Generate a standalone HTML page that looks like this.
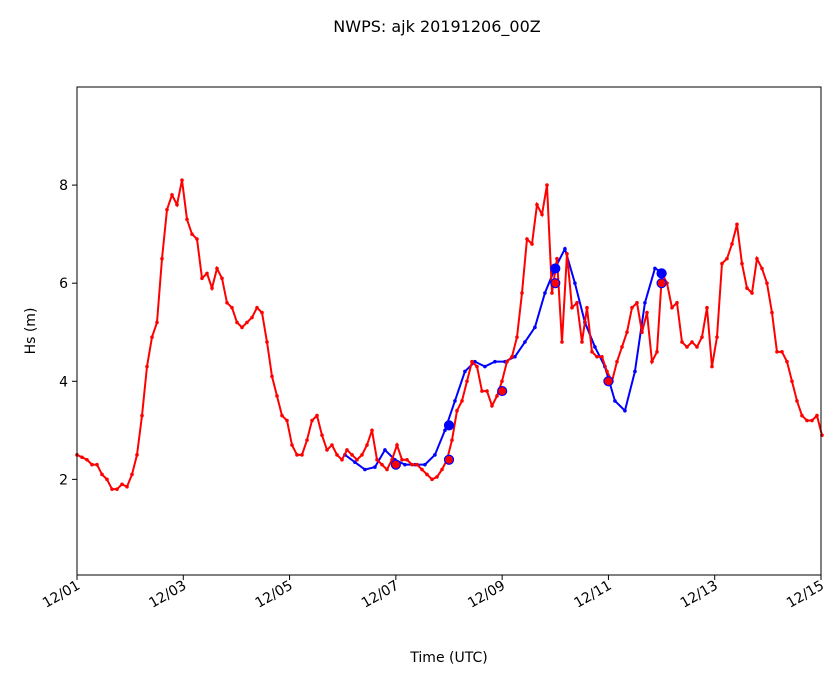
<!DOCTYPE html>
<html><head><meta charset="utf-8">
<style>
body{margin:0;background:#fff;font-family:"Liberation Sans","DejaVu Sans",sans-serif;}
svg text{font-family:"DejaVu Sans","Liberation Sans",sans-serif;}
</style></head>
<body>
<svg id="chart" width="839" height="681" viewBox="0 0 839 681">
<text x="437" y="32" font-size="16" text-anchor="middle">NWPS: ajk 20191206_00Z</text>
<g id="plot"></g>
<rect x="77" y="87" width="744" height="488" fill="none" stroke="#000" stroke-width="1"/>
<g id="xaxis"></g>
<g id="yaxis"></g>
<text x="449" y="662" font-size="14" text-anchor="middle">Time (UTC)</text>
<text transform="translate(35,331) rotate(-90)" font-size="14" text-anchor="middle">Hs (m)</text>
</svg>
<script>
const xTickLabels = ["12/01","12/03","12/05","12/07","12/09","12/11","12/13","12/15"];
const xTickDays = [0,2,4,6,8,10,12,14];
const yTicks = [2,4,6,8];
const redStartHour = 0;
const redStepHour = 2.258;
const redValues = [2.5,2.45,2.4,2.3,2.3,2.1,2.0,1.8,1.8,1.9,1.85,2.1,2.5,3.3,4.3,4.9,5.2,6.5,7.5,7.8,7.6,8.1,7.3,7.0,6.9,6.1,6.2,5.9,6.3,6.1,5.6,5.5,5.2,5.1,5.2,5.3,5.5,5.4,4.8,4.1,3.7,3.3,3.2,2.7,2.5,2.5,2.8,3.2,3.3,2.9,2.6,2.7,2.5,2.4,2.6,2.5,2.4,2.5,2.7,3.0,2.4,2.3,2.2,2.4,2.7,2.4,2.4,2.3,2.3,2.2,2.1,2.0,2.05,2.2,2.4,2.8,3.4,3.6,4.0,4.4,4.3,3.8,3.8,3.5,3.7,4.0,4.4,4.5,4.9,5.8,6.9,6.8,7.6,7.4,8.0,5.8,6.5,4.8,6.6,5.5,5.6,4.8,5.5,4.6,4.5,4.5,4.2,4.0,4.4,4.7,5.0,5.5,5.6,5.0,5.4,4.4,4.6,6.2,6.0,5.5,5.6,4.8,4.7,4.8,4.7,4.9,5.5,4.3,4.9,6.4,6.5,6.8,7.2,6.4,5.9,5.8,6.5,6.3,6.0,5.4,4.6,4.6,4.4,4.0,3.6,3.3,3.2,3.2,3.3,2.9];
const blueStartHour = 121;
const blueStepHour = 4.516;
const blueValues = [2.5,2.35,2.2,2.25,2.6,2.4,2.3,2.3,2.3,2.5,3.0,3.6,4.2,4.4,4.3,4.4,4.4,4.5,4.8,5.1,5.8,6.3,6.7,6.0,5.2,4.7,4.3,3.6,3.4,4.2,5.6,6.3,6.2];
const obsDays = [6,7,7,8,9,9,10,11,11];
const obsValues = [2.3,2.4,3.1,3.8,6.3,6.0,4.0,6.2,6.0];
const obsColors = ["red","red","blue","red","blue","red","red","blue","red"];

const X0=77,X1=821,Y0=575,Y1=87,XMAX=14,YMIN=0.05,YMAX=10;
const xs=d=>X0+(d/XMAX)*(X1-X0);
const ys=v=>Y0-(v-YMIN)/(YMAX-YMIN)*(Y0-Y1);
const NS="http://www.w3.org/2000/svg";
const mk=(t,a,p)=>{const e=document.createElementNS(NS,t);for(const k in a)e.setAttribute(k,a[k]);p.appendChild(e);return e;};
const plot=document.getElementById('plot');

function series(vals,start,step,color,name){
  const pts=vals.map((v,i)=>[xs((start+i*step)/24),ys(v)]);
  const l=mk('polyline',{points:pts.map(p=>p.join(',')).join(' '),fill:'none',stroke:color,'stroke-width':2},plot);
  
  
  pts.forEach(p=>{const c=mk('circle',{cx:p[0],cy:p[1],r:1.8,fill:color},plot);
    
    });
}
series(blueValues,blueStartHour,blueStepHour,'blue','model-series');
series(redValues,redStartHour,redStepHour,'red','obs-series');
obsDays.forEach((d,i)=>{
  const c=mk('circle',{cx:xs(d),cy:ys(obsValues[i]),r:4.5,fill:obsColors[i],stroke:'blue','stroke-width':1.2},plot);
  
  
});
const xa=document.getElementById('xaxis');
xTickDays.forEach((d,i)=>{
  const x=xs(d);
  const t=mk('line',{x1:x,x2:x,y1:575,y2:580,stroke:'#000'},xa);
  
  
  const tx=mk('text',{x:x+4,y:588,'font-size':14,'text-anchor':'end',transform:`rotate(-30 ${x+4} 588)`},xa);
  tx.textContent=xTickLabels[i];
  
  
});
const ya=document.getElementById('yaxis');
yTicks.forEach(v=>{
  const y=ys(v);
  const t=mk('line',{x1:72,x2:77,y1:y,y2:y,stroke:'#000'},ya);
  
  
  const tx=mk('text',{x:68,y:y+5,'font-size':14,'text-anchor':'end'},ya);
  tx.textContent=v;
  
  
});
</script>
</body></html>
